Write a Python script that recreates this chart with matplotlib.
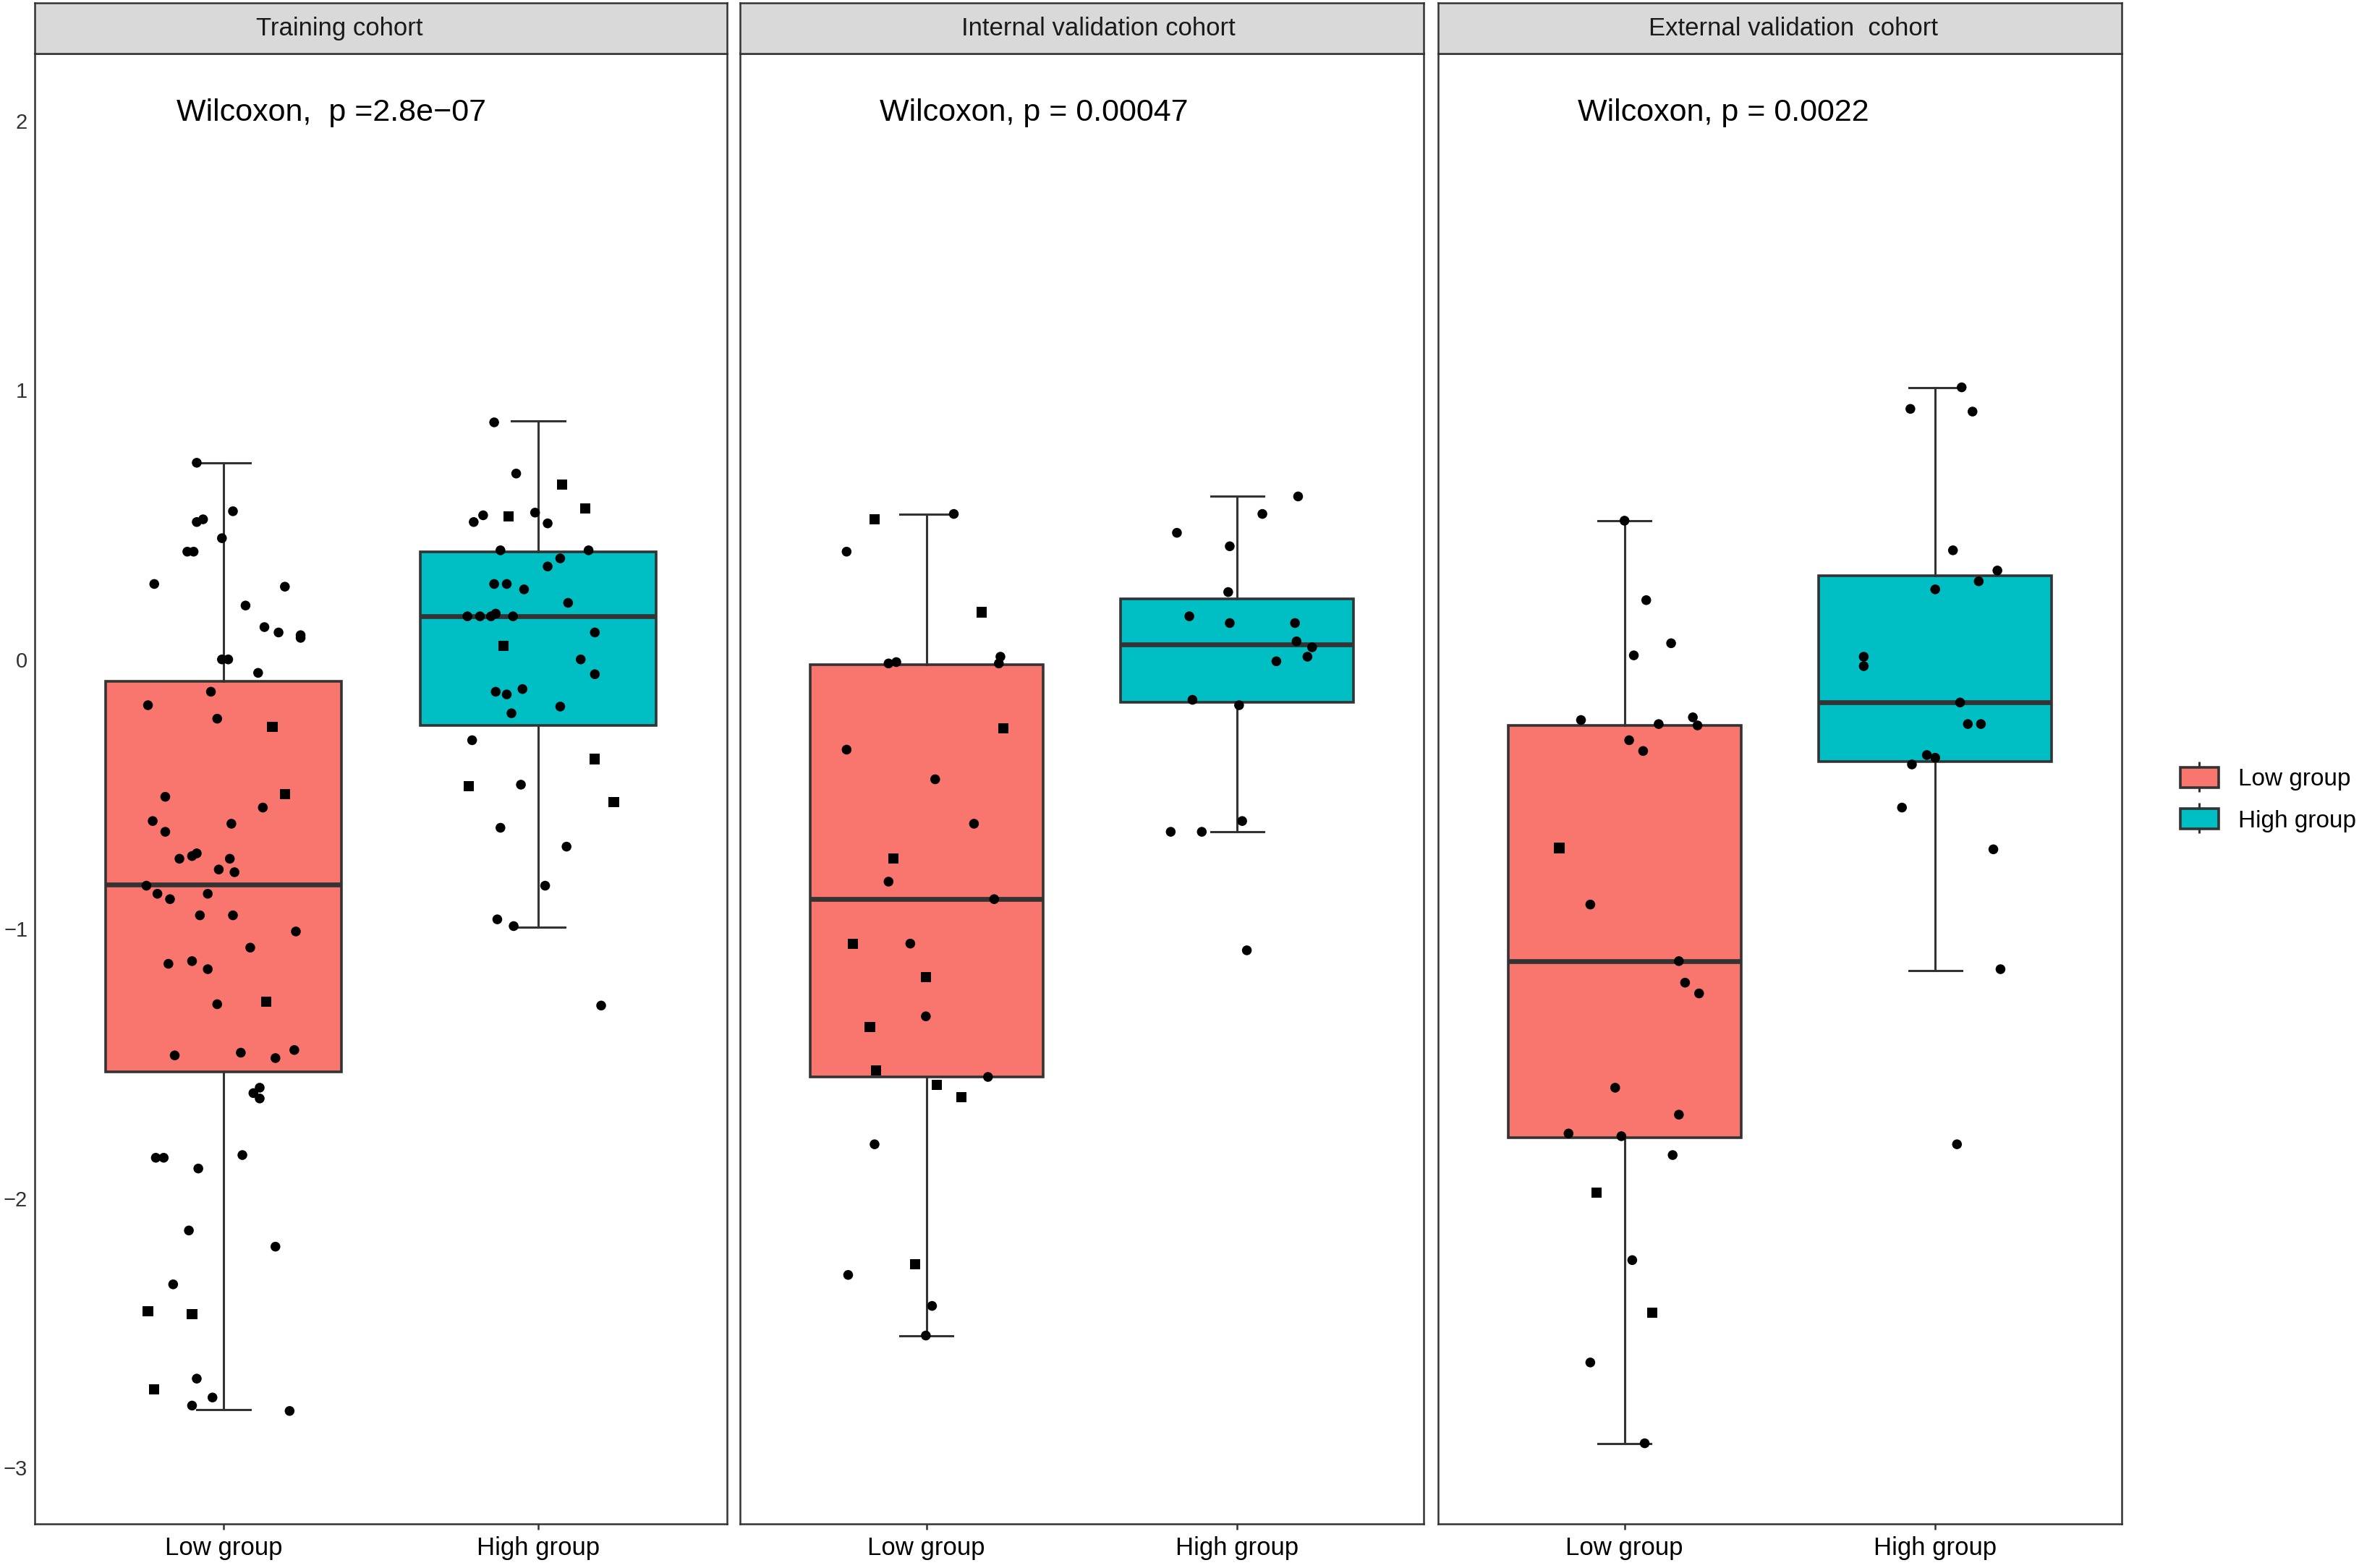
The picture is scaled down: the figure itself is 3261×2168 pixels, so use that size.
import matplotlib.pyplot as plt
from matplotlib.lines import Line2D
from matplotlib.patches import Patch
from matplotlib.legend_handler import HandlerTuple

plt.rcParams['font.family'] = ['Liberation Sans', 'DejaVu Sans']

# cohort titles and p-value labels
cohorts = ['Training cohort', 'Internal validation cohort', 'External validation  cohort']
p_labels = ['Wilcoxon,  p =2.8e\u221207', 'Wilcoxon, p = 0.00047', 'Wilcoxon, p = 0.0022']
groups = ['Low group', 'High group']
group_colors = ['#F8766D', '#00BFC4']

# box statistics: (whislo, q1, med, q3, whishi)
train_low_box = (-2.785, -1.53, -0.835, -0.08, 0.73)
train_high_box = (-0.995, -0.245, 0.16, 0.40, 0.885)
internal_low_box = (-2.51, -1.55, -0.89, -0.02, 0.54)
internal_high_box = (-0.64, -0.16, 0.056, 0.225, 0.605)
external_low_box = (-2.91, -1.775, -1.12, -0.245, 0.515)
external_high_box = (-1.155, -0.38, -0.16, 0.31, 1.01)

# jittered points: (value, horizontal jitter, marker)
train_low_pts = [
    (0.73, -0.085, 'o'), (0.51, -0.085, 'o'), (0.52, -0.065, 'o'), (0.55, 0.03, 'o'),
    (0.45, -0.005, 'o'), (0.40, -0.115, 'o'), (0.40, -0.095, 'o'), (0.28, -0.22, 'o'),
    (0.27, 0.195, 'o'), (0.20, 0.07, 'o'), (0.12, 0.13, 'o'), (0.10, 0.175, 'o'),
    (0.09, 0.245, 'o'), (0.08, 0.245, 'o'), (0.00, -0.005, 'o'), (0.00, 0.015, 'o'),
    (-0.05, 0.11, 'o'), (-0.12, -0.04, 'o'), (-0.17, -0.24, 'o'), (-0.22, -0.02, 'o'),
    (-0.25, 0.155, 's'), (-0.51, -0.185, 'o'), (-0.50, 0.195, 's'), (-0.55, 0.125, 'o'),
    (-0.60, -0.225, 'o'), (-0.61, 0.025, 'o'), (-0.64, -0.185, 'o'), (-0.74, -0.14, 'o'),
    (-0.73, -0.10, 'o'), (-0.72, -0.085, 'o'), (-0.74, 0.02, 'o'), (-0.78, -0.015, 'o'),
    (-0.79, 0.035, 'o'), (-0.84, -0.245, 'o'), (-0.87, -0.21, 'o'), (-0.87, -0.05, 'o'),
    (-0.89, -0.17, 'o'), (-0.95, -0.075, 'o'), (-0.95, 0.03, 'o'), (-1.01, 0.23, 'o'),
    (-1.07, 0.085, 'o'), (-1.13, -0.175, 'o'), (-1.12, -0.10, 'o'), (-1.15, -0.05, 'o'),
    (-1.27, 0.135, 's'), (-1.28, -0.02, 'o'), (-1.47, -0.155, 'o'), (-1.46, 0.055, 'o'),
    (-1.48, 0.165, 'o'), (-1.45, 0.225, 'o'), (-1.59, 0.115, 'o'), (-1.61, 0.095, 'o'),
    (-1.63, 0.115, 'o'), (-1.85, -0.215, 'o'), (-1.85, -0.19, 'o'), (-1.84, 0.06, 'o'),
    (-1.89, -0.08, 'o'), (-2.12, -0.11, 'o'), (-2.18, 0.165, 'o'), (-2.32, -0.16, 'o'),
    (-2.42, -0.24, 's'), (-2.43, -0.10, 's'), (-2.67, -0.085, 'o'), (-2.71, -0.22, 's'),
    (-2.74, -0.035, 'o'), (-2.77, -0.10, 'o'), (-2.79, 0.21, 'o'),
]
train_high_pts = [
    (0.88, -0.14, 'o'), (0.69, -0.07, 'o'), (0.65, 0.075, 's'), (0.53, -0.095, 's'),
    (0.51, -0.205, 'o'), (0.535, -0.175, 'o'), (0.545, -0.01, 'o'), (0.505, 0.03, 'o'),
    (0.56, 0.15, 's'), (0.405, -0.12, 'o'), (0.405, 0.16, 'o'), (0.375, 0.07, 'o'),
    (0.345, 0.03, 'o'), (0.28, -0.14, 'o'), (0.28, -0.10, 'o'), (0.26, -0.045, 'o'),
    (0.21, 0.095, 'o'), (0.16, -0.225, 'o'), (0.16, -0.185, 'o'), (0.16, -0.15, 'o'),
    (0.17, -0.135, 'o'), (0.16, -0.08, 'o'), (0.10, 0.18, 'o'), (0.05, -0.11, 's'),
    (0.0, 0.135, 'o'), (-0.055, 0.18, 'o'), (-0.12, -0.135, 'o'), (-0.13, -0.10, 'o'),
    (-0.11, -0.05, 'o'), (-0.20, -0.085, 'o'), (-0.175, 0.07, 'o'), (-0.30, -0.21, 'o'),
    (-0.37, 0.18, 's'), (-0.47, -0.22, 's'), (-0.465, -0.055, 'o'), (-0.53, 0.24, 's'),
    (-0.625, -0.12, 'o'), (-0.695, 0.09, 'o'), (-0.84, 0.022, 'o'), (-0.965, -0.13, 'o'),
    (-0.99, -0.078, 'o'), (-1.285, 0.20, 'o'),
]
internal_low_pts = [
    (0.52, -0.167, 's'), (0.54, 0.088, 'o'), (0.40, -0.257, 'o'), (0.175, 0.178, 's'),
    (-0.015, -0.122, 'o'), (-0.01, -0.097, 'o'), (0.01, 0.238, 'o'), (-0.015, 0.233, 'o'),
    (-0.335, -0.257, 'o'), (-0.255, 0.248, 's'), (-0.445, 0.028, 'o'), (-0.61, 0.153, 'o'),
    (-0.74, -0.107, 's'), (-0.825, -0.122, 'o'), (-0.89, 0.218, 'o'), (-1.055, -0.237, 's'),
    (-1.055, -0.052, 'o'), (-1.18, -0.002, 's'), (-1.325, -0.002, 'o'), (-1.365, -0.182, 's'),
    (-1.525, -0.162, 's'), (-1.55, 0.198, 'o'), (-1.58, 0.033, 's'), (-1.625, 0.113, 's'),
    (-1.80, -0.167, 'o'), (-2.285, -0.252, 'o'), (-2.245, -0.037, 's'), (-2.40, 0.018, 'o'),
    (-2.51, -0.002, 'o'),
]
internal_high_pts = [
    (0.605, 0.196, 'o'), (0.54, 0.081, 'o'), (0.47, -0.194, 'o'), (0.42, -0.024, 'o'),
    (0.25, -0.029, 'o'), (0.16, -0.154, 'o'), (0.135, -0.024, 'o'), (0.135, 0.186, 'o'),
    (0.067, 0.191, 'o'), (0.045, 0.241, 'o'), (0.01, 0.226, 'o'), (-0.007, 0.126, 'o'),
    (-0.15, -0.144, 'o'), (-0.17, 0.006, 'o'), (-0.64, -0.214, 'o'), (-0.64, -0.114, 'o'),
    (-0.60, 0.016, 'o'), (-1.08, 0.031, 'o'),
]
external_low_pts = [
    (0.515, 0.0, 'o'), (0.22, 0.07, 'o'), (0.06, 0.15, 'o'), (0.015, 0.03, 'o'),
    (-0.225, -0.14, 'o'), (-0.24, 0.11, 'o'), (-0.215, 0.22, 'o'), (-0.245, 0.235, 'o'),
    (-0.30, 0.015, 'o'), (-0.34, 0.06, 'o'), (-0.70, -0.21, 's'), (-0.91, -0.11, 'o'),
    (-1.12, 0.175, 'o'), (-1.20, 0.195, 'o'), (-1.24, 0.24, 'o'), (-1.59, -0.03, 'o'),
    (-1.69, 0.175, 'o'), (-1.76, -0.18, 'o'), (-1.77, -0.01, 'o'), (-1.84, 0.155, 'o'),
    (-1.98, -0.09, 's'), (-2.23, 0.025, 'o'), (-2.425, 0.09, 's'), (-2.61, -0.11, 'o'),
    (-2.91, 0.065, 'o'),
]
external_high_pts = [
    (1.01, 0.085, 'o'), (0.93, -0.08, 'o'), (0.92, 0.12, 'o'), (0.405, 0.057, 'o'),
    (0.33, 0.20, 'o'), (0.29, 0.14, 'o'), (0.26, 0.0, 'o'), (0.01, -0.23, 'o'),
    (-0.025, -0.23, 'o'), (-0.16, 0.08, 'o'), (-0.24, 0.105, 'o'), (-0.24, 0.147, 'o'),
    (-0.355, -0.027, 'o'), (-0.365, 0.0, 'o'), (-0.39, -0.075, 'o'), (-0.55, -0.107, 'o'),
    (-0.705, 0.187, 'o'), (-1.15, 0.21, 'o'), (-1.80, 0.07, 'o'),
]

boxes = [(train_low_box, train_high_box),
         (internal_low_box, internal_high_box),
         (external_low_box, external_high_box)]
points = [(train_low_pts, train_high_pts),
          (internal_low_pts, internal_high_pts),
          (external_low_pts, external_high_pts)]

fig = plt.figure(figsize=(32.61, 21.68), dpi=100)

lefts = [0.0147, 0.3137, 0.6096]
widths = [0.2935, 0.2898, 0.2898]
strip_text_x = [0.44, 0.524, 0.52]
bottom, top = 0.028, 0.966
edge = '#333333'

for i in range(3):
    ax = fig.add_axes([lefts[i], bottom, widths[i], top - bottom])
    stats = []
    for g, b in zip(groups, boxes[i]):
        stats.append(dict(label=g, whislo=b[0], q1=b[1], med=b[2], q3=b[3], whishi=b[4]))
    bp = ax.bxp(stats, positions=[1, 2], widths=0.75, patch_artist=True,
                showfliers=False, capwidths=0.17,
                boxprops=dict(edgecolor=edge, linewidth=2.6),
                medianprops=dict(color=edge, linewidth=4.8),
                whiskerprops=dict(color=edge, linewidth=2.2),
                capprops=dict(color=edge, linewidth=2.2))
    for patch, c in zip(bp['boxes'], group_colors):
        patch.set_facecolor(c)

    # jittered points on top
    for pos, pts in zip([1, 2], points[i]):
        for y, dx, m in pts:
            ax.scatter(pos + dx, y, marker=m, s=95 if m == 'o' else 105,
                       color='black', edgecolors='none', zorder=4)

    ax.text(0.85, 2.03, p_labels[i], fontsize=31, ha='left', va='center')

    ax.set_xlim(0.4, 2.6)
    ax.set_ylim(-3.21, 2.25)
    ax.set_xticks([1, 2])
    ax.set_xticklabels(groups, fontsize=25)
    ax.tick_params(axis='x', length=6, width=1.8, color=edge, pad=6)
    ax.set_yticks([2, 1, 0, -1, -2, -3])
    if i == 0:
        ax.tick_params(axis='y', length=0, pad=7, labelsize=21, labelcolor='#333333')
    else:
        ax.tick_params(axis='y', length=0, labelleft=False)
    for sp in ax.spines.values():
        sp.set_color(edge)
        sp.set_linewidth(1.8)

    # facet strip
    sax = fig.add_axes([lefts[i], top, widths[i], 0.998 - top])
    sax.set_facecolor('#D9D9D9')
    sax.set_xticks([])
    sax.set_yticks([])
    for sp in sax.spines.values():
        sp.set_color(edge)
        sp.set_linewidth(1.8)
    sax.text(strip_text_x[i], 0.5, cohorts[i], fontsize=25, ha='center', va='center',
             color='#1A1A1A', transform=sax.transAxes)

# legend with boxplot-like keys
handles = []
for c in group_colors:
    whisk = Line2D([], [], color=edge, marker='|', markersize=30, markeredgewidth=2.2,
                   linestyle='none')
    rect = Patch(facecolor=c, edgecolor=edge, linewidth=2.6)
    handles.append((whisk, rect))
fig.legend(handles, groups, handler_map={tuple: HandlerTuple(ndivide=1, pad=0)},
           loc='center left', bbox_to_anchor=(0.919, 0.49), frameon=False,
           fontsize=24, handlelength=1.6, handleheight=0.9, handletextpad=0.8,
           labelspacing=0.75, borderpad=0)

fig.savefig('out.png', dpi=100)
